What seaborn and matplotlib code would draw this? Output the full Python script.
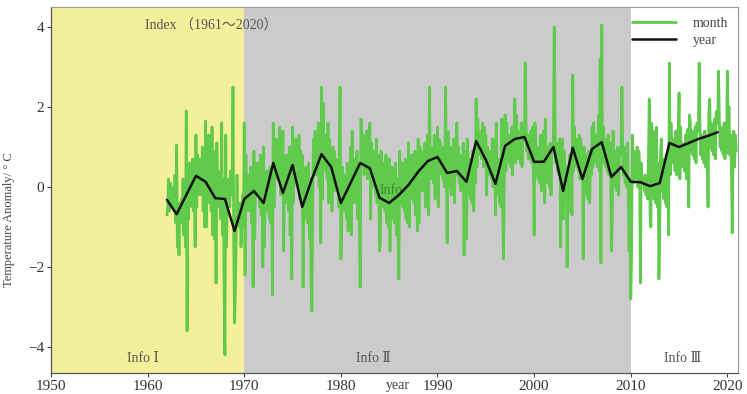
import numpy as np
import pandas as pd
import matplotlib
matplotlib.use("Agg")
import matplotlib.pyplot as plt
import seaborn as sns

# ---------------- data ----------------
years_annual = list(range(1962, 2020))
annual_vals = [-0.32, -0.68, -0.2, 0.28, 0.13, -0.28, -0.3, -1.1, -0.3, -0.1,
               -0.4, 0.6, -0.15, 0.55, -0.5, 0.2, 0.82, 0.5, -0.4, 0.1,
               0.6, 0.47, -0.27, -0.4, -0.2, 0.05, 0.38, 0.65, 0.75, 0.35,
               0.4, 0.13, 1.15, 0.68, 0.08, 1.03, 1.2, 1.25, 0.63, 0.63,
               1.0, -0.1, 0.98, 0.2, 0.95, 1.12, 0.25, 0.5, 0.13, 0.12,
               0.02, 0.1, 1.1, 1.0, 1.1, 1.2, 1.28, 1.37]

month_start_year = 1962
monthly_1960s = [
    -0.7, -0.5, 0.2, -0.6, 0.1, -0.4, -0.2, -0.5, 0.0, -0.6, 0.3, -0.9,
    1.05, -1.5, -0.6, -1.7, -0.4, -0.8, -0.3, -0.9, 0.2, -1.2, -0.5, -1.5,
    1.9, -3.6, 0.5, -0.8, 0.6, 0.0, 0.4, -0.5, 0.7, -0.6, 0.5, -1.5,
    1.3, -0.5, 0.8, 0.2, 0.7, -0.2, 0.6, 0.1, 1.0, -0.6, 0.9, -1.0,
    1.65, -1.0, 0.5, 0.3, 1.3, -0.4, 0.2, -0.6, 1.5, -1.2, 0.6, -1.3,
    0.9, -2.4, 1.1, -0.5, 0.4, -0.3, 0.1, -0.8, 1.6, -1.2, 0.2, -2.5,
    -4.2, 1.3, -1.5, -0.1, -0.3, 0.2, -0.5, 0.4, -0.2, 0.3, 2.5, -1.5,
    -3.4, -2.5, -1.2, 0.3, -0.9, -0.6, -1.0, -0.4, -1.5, -0.8, -0.2, -1.0,
]
monthly_1970s = [
    1.6, -2.2, 0.8, -0.5, 0.3, -0.6, 0.1, -0.4, 0.5, -0.9, 0.2, -2.5,
    0.9, -1.3, 0.5, -0.2, 0.6, 0.0, 0.3, -0.5, 0.8, -0.7, 0.4, -2.0,
    1.0, -1.5, 0.2, -0.6, 0.4, -0.5, -0.2, -0.8, 0.5, -0.9, 0.3, -2.7,
    1.6, -0.5, 1.0, 0.4, 1.2, 0.2, 0.9, 0.3, 1.5, -0.2, 0.8, 0.0,
    1.4, -1.6, 0.6, -0.3, 0.8, -0.4, 0.3, -0.6, 1.0, -1.2, 0.5, -2.3,
    1.5, -0.4, 1.1, 0.3, 1.2, 0.1, 0.7, 0.2, 1.3, -0.3, 0.9, 0.0,
    0.8, -2.5, 0.3, -0.8, 0.5, -0.6, 0.1, -0.9, 0.6, -1.3, 0.2, -2.4,
    -3.1, -0.5, 1.2, 0.6, 1.4, 0.3, 0.9, 0.4, 1.6, 0.0, 1.0, -1.4,
    2.5, -0.3, 2.1, 0.5, 1.3, 0.4, 1.0, 0.2, 1.6, -0.4, 1.2, -0.3,
    0.5, -0.6, 1.0, 0.2, 0.9, -0.1, 0.7, 0.0, 0.6, -0.5, 0.8, 2.5,
]
monthly_1980s = [
    -1.8, -1.0, 0.5, -0.5, 0.3, -0.6, 0.0, -0.8, 0.6, -1.1, 0.2, -0.6,
    1.0, -1.2, 1.4, -0.2, 0.7, -0.4, 0.5, -0.3, 0.9, -0.8, 0.6, -1.0,
    -2.5, 1.7, 1.2, 0.6, 1.3, 0.3, 1.0, 0.5, 1.4, 0.2, 1.0, 0.5,
    1.6, -0.8, 1.1, 0.2, 0.9, 0.0, 0.7, -0.2, 1.2, -0.4, 0.8, 0.5,
    -1.6, -1.4, 0.9, -0.3, 0.6, -0.5, 0.3, -0.6, 0.8, -0.9, 0.4, -1.0,
    0.7, -1.6, 0.4, -0.7, 0.5, -0.8, 0.1, -0.9, 0.6, -1.2, 0.2, -1.1,
    -2.3, 0.9, 0.3, -0.4, 0.6, -0.5, 0.2, -0.6, 0.7, -0.8, 0.4, -0.9,
    1.1, -1.0, 0.6, -0.3, 0.8, -0.2, 0.4, -0.4, 0.9, -0.7, 0.5, -1.1,
    1.2, -0.9, 1.0, 0.1, 0.9, -0.1, 0.6, 0.0, 1.1, -0.5, 0.8, 0.4,
    1.3, -0.7, 2.5, 0.4, 1.0, 0.2, 0.8, 0.1, 1.3, -0.3, 0.9, 0.3,
]
monthly_1990s = [
    1.5, -0.5, 1.2, 0.5, 1.1, 0.3, 0.8, 0.2, 1.0, 0.0, 2.5, 0.4,
    -1.4, 1.4, 0.9, 0.0, 1.0, -0.2, 0.6, -0.1, 1.2, -0.4, 0.7, 0.5,
    1.6, 0.3, 1.0, 0.1, 0.8, -0.1, 0.7, 0.0, 1.1, -1.7, 0.9, 0.1,
    -1.3, 1.2, 0.6, -0.2, 0.7, -0.3, 0.4, -0.4, 0.9, -0.6, 0.5, 0.1,
    2.2, 0.5, 1.7, 0.9, 1.4, 0.8, 1.2, 0.7, 1.6, 0.5, 1.5, 0.8,
    1.3, -0.2, 1.0, 0.4, 0.9, 0.3, 0.8, 0.2, 1.2, 0.0, 1.1, 1.2,
    -0.7, 1.6, 0.5, -0.2, 0.7, -0.4, 0.4, -0.5, 1.7, -0.6, -1.8, 0.3,
    1.8, 0.4, 1.6, 0.7, 1.3, 0.6, 1.1, 0.5, 1.5, 0.3, 1.4, 1.2,
    2.2, 0.6, 1.8, 0.8, 1.4, 0.7, 1.2, 0.6, 1.6, 0.5, 1.5, 1.5,
    1.2, 3.1, 1.5, 0.9, 1.3, 0.7, 1.2, 0.8, 1.4, 0.6, 1.5, 0.8,
]
monthly_2000s = [
    -1.2, 1.6, 1.2, 0.3, 1.0, 0.2, 0.9, 0.1, 1.3, -0.1, 1.2, 1.1,
    1.4, -0.4, 1.7, 0.2, 1.0, 0.1, 0.8, 0.0, 1.1, -0.2, 1.0, 0.9,
    1.3, 4.0, 1.5, 0.6, 1.1, 0.4, 0.9, 0.3, 1.2, -1.5, 1.0, 1.2,
    -0.8, 0.9, 0.6, -0.3, 0.5, -2.0, 0.3, -0.5, 0.8, -0.6, 0.6, -0.7,
    2.8, 0.4, 1.5, 0.7, 1.2, 0.5, 1.0, 0.4, 1.3, 0.2, 1.2, 0.6,
    0.8, -1.8, 1.0, 0.0, 0.8, -0.2, 0.6, -0.3, 0.9, -0.4, 0.7, 0.3,
    1.5, 0.5, 1.6, 0.8, 1.3, 0.6, 1.1, 0.5, 1.8, 0.4, 3.2, -1.9,
    4.05, 0.6, 1.5, 0.7, 1.2, 0.5, 1.0, 0.4, 1.3, 0.3, 1.1, 0.8,
    -1.6, -0.9, 1.4, 0.2, 0.9, 0.0, 0.7, -0.1, 1.0, -0.2, 0.8, 0.8,
    1.0, 2.5, 0.9, 0.3, 1.0, 0.1, 0.7, 0.0, 1.1, -0.2, -1.6, 0.2,
]
monthly_2010s = [
    -2.8, -1.75, 1.3, 0.1, 0.9, 0.3, 0.8, 0.2, 1.0, 0.0, 0.9, 0.6,
    -2.4, 0.6, 0.2, 0.1, 0.2, -0.1, 0.3, -0.2, 0.2, -0.3, 0.7, 2.2,
    -0.7, -1.0, 1.6, -0.2, 1.4, -0.3, 0.5, -0.4, 1.5, -0.5, 0.6, -2.3,
    -1.0, 0.9, 1.2, -0.1, 0.7, -0.3, 0.5, -0.4, 0.8, -0.5, 0.6, -1.2,
    3.1, 0.3, 1.6, 0.7, 1.2, 0.6, 1.0, 0.4, 1.4, 0.3, 1.3, 1.3,
    2.35, 0.2, 1.5, 0.6, 1.1, 0.5, 1.0, 0.4, 1.3, 0.2, 1.4, 1.45,
    -0.5, 1.8, 1.6, 0.9, 1.4, 0.8, 1.2, 0.7, 1.5, 0.6, 1.6, 1.6,
    1.4, 3.1, 1.5, 0.8, 1.3, 0.7, 1.1, 0.6, 1.4, 0.5, 1.2, 0.8,
    -0.5, 1.9, 2.2, 1.0, 1.6, 0.9, 1.4, 0.8, 1.7, 0.7, 1.8, 1.9,
    1.6, 2.9, 1.7, 1.0, 1.5, 0.9, 1.3, 0.8, 1.6, 0.7, 1.6, 0.84,
]
monthly_2020 = [2.9, 1.2, 2.0, 0.8, 1.3, 0.6, -1.15, 0.7, 1.4, 0.5, 1.3, 0.9]

period_bounds = [1950, 1970, 2010, 2021]
period_labels = ["Info \u2160", "Info \u2161", "Info \u2162"]
period_colors = ["#f4ef9a", "#cbcbcb", "#ffffff"]
title_text = "Index \uff081961\uff5e2020\uff09"
x_ticks = [1950, 1960, 1970, 1980, 1990, 2000, 2010, 2020]
y_ticks = [-4, -2, 0, 2, 4]

# ---------------- frames ----------------
monthly_vals = (monthly_1960s + monthly_1970s + monthly_1980s + monthly_1990s
                + monthly_2000s + monthly_2010s + monthly_2020)
df_m = pd.DataFrame({
    "t": [month_start_year + i / 12 for i in range(len(monthly_vals))],
    "v": monthly_vals,
})
df_y = pd.DataFrame({"t": years_annual, "v": annual_vals})

# ---------------- plot ----------------
sns.set_theme(style="white")
serif = ["Liberation Serif", "DejaVu Serif", "Noto Sans CJK SC"]
plt.rcParams["font.family"] = serif

fig = plt.figure(figsize=(7.47, 3.94), dpi=100)
ax = fig.add_axes([51 / 747, 1 - 373 / 394, (738 - 51) / 747, (373 - 7) / 394])

for (a, b), c in zip(zip(period_bounds[:-1], period_bounds[1:]), period_colors):
    ax.axvspan(a, b, color=c, lw=0, zorder=0)

sns.lineplot(data=df_m, x="t", y="v", ax=ax, color="#5fca4b", lw=2.0,
             label="month", zorder=2)
sns.lineplot(data=df_y, x="t", y="v", ax=ax, color="#111111", lw=1.8,
             label="year", zorder=3)

ax.text(1985.2, -0.08, "Info", color="#3d8a30", fontsize=10, ha="center",
        va="center", zorder=2.5)

ax.set_xlim(1950, 2021.1)
ax.set_ylim(-4.65, 4.5)
ax.set_xticks(x_ticks)
ax.set_yticks(y_ticks)
ax.set_yticklabels(["\u22124", "\u22122", "0", "2", "4"])
ax.tick_params(axis="both", direction="out", length=3, width=0.8,
               colors="#444444", labelsize=11, pad=2)
ax.tick_params(axis="x", bottom=True)
ax.tick_params(axis="y", left=True)
for lab in ax.get_xticklabels() + ax.get_yticklabels():
    lab.set_color("#333333")

for s in ["left", "bottom"]:
    ax.spines[s].set_color("#555555")
    ax.spines[s].set_linewidth(0.9)
for s in ["top", "right"]:
    ax.spines[s].set_color("#999999")
    ax.spines[s].set_linewidth(0.8)

ax.set_xlabel("")
ax.set_ylabel("Temperature Anomaly/ \u00b0 C", fontsize=9, color="#444444")
ax.yaxis.set_label_coords(-0.052, 0.42)
ax.text((398 - 51) / 687, -0.034, "year", transform=ax.transAxes,
        fontsize=10, color="#444444", ha="center", va="center")

# period labels
for lab, xc in zip(period_labels, [1959.5, 1983.4, 2015.4]):
    ax.text(xc, -4.28, lab, fontsize=10, color="#555555", ha="center",
            va="center", zorder=4)

ax.text(1966.6, 4.02, title_text, fontsize=10, color="#555555", ha="center",
        va="center", family=["Liberation Serif", "Noto Sans CJK SC"], zorder=4)

leg = ax.legend(loc="upper right", frameon=False, fontsize=10,
                handlelength=3.2, handletextpad=1.2, borderaxespad=0.3,
                labelspacing=0.3)
for t in leg.get_texts():
    t.set_color("#444444")

fig.savefig("out.png", dpi=100)
